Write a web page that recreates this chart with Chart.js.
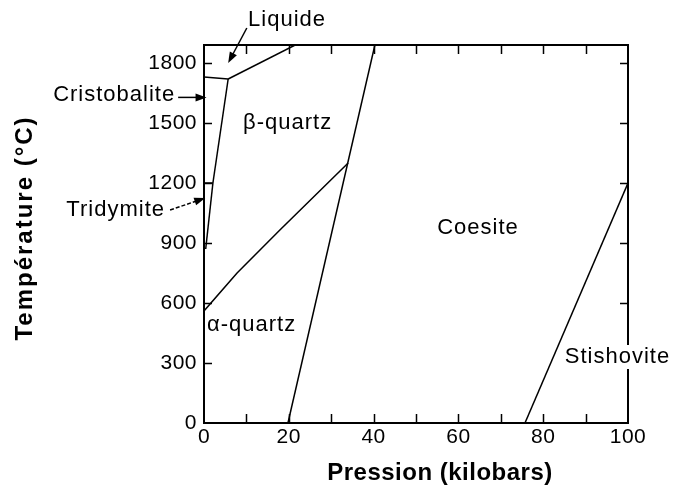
<!DOCTYPE html>
<html>
<head>
<meta charset="utf-8">
<script src="https://cdn.jsdelivr.net/npm/chart.js@4.4.0/dist/chart.umd.min.js"></script>
<style>
  html, body { margin: 0; padding: 0; background: #fff; }
  .chart-container { width: 673px; height: 486px; }
</style>
</head>
<body>
<div class="chart-container"><canvas id="phaseChart"></canvas></div>
<script>
// axes
const xTickLabels = [0, 20, 40, 60, 80, 100];
const xTickMarks = [10, 20, 30, 40, 50, 60, 70, 80, 90];
const yTickLabels = [0, 300, 600, 900, 1200, 1500, 1800];

// phase boundaries: [pression kbar, temperature °C]
const liquidQuartz = [[5.7, 1720], [21.5, 1890]];
const liquidCristobalite = [[0, 1730], [5.7, 1720]];
const cristobaliteQuartz = [[5.7, 1720], [2.1, 1200]];
const tridymiteCristobalite = [[0, 1200], [2.1, 1200]];
const tridymiteQuartz = [[2.1, 1200], [0.4, 870]];
const alphaBeta = [[0, 560], [7.8, 750], [17.9, 965], [34, 1300]];
const quartzCoesite = [[19.8, 0], [40.3, 1890]];
const coesiteStishovite = [[75.7, 0], [100, 1200]];

const boundaries = [
  liquidQuartz, liquidCristobalite, cristobaliteQuartz, tridymiteCristobalite,
  tridymiteQuartz, alphaBeta, quartzCoesite, coesiteStishovite,
];

// phase names placed in data coordinates
const phaseNames = ['β-quartz', 'Coesite', 'α-quartz', 'Stishovite', 'Liquide', 'Cristobalite', 'Tridymite'];
const phaseNameAt = [[9.2, 1500], [55.0, 975], [0.7, 490], [85.1, 330], [10.4, 2015], [-6.8, 1640], [-9.2, 1065]];
const phaseNameAlign = ['left', 'left', 'left', 'left', 'left', 'right', 'right'];

// arrows pointing from label to region: [from, to]
const arrowFrom = [[10.1, 1975], [-6.1, 1628], [-8.0, 1065]];
const arrowTo = [[5.7, 1800], [0.6, 1628], [0.3, 1125]];
const arrowDashed = [false, false, true];

const FONT = '"Liberation Sans", Arial, sans-serif';

function drawArrow(ctx, x1, y1, x2, y2, dashed) {
  const ang = Math.atan2(y2 - y1, x2 - x1);
  const head = 11;
  ctx.save();
  ctx.strokeStyle = '#000';
  ctx.fillStyle = '#000';
  ctx.lineWidth = 1.5;
  if (dashed) ctx.setLineDash([4, 2]);
  ctx.beginPath();
  ctx.moveTo(x1, y1);
  ctx.lineTo(x2 - Math.cos(ang) * head * 0.8, y2 - Math.sin(ang) * head * 0.8);
  ctx.stroke();
  ctx.setLineDash([]);
  ctx.beginPath();
  ctx.moveTo(x2, y2);
  ctx.lineTo(x2 - head * Math.cos(ang) + 4 * Math.sin(ang), y2 - head * Math.sin(ang) - 4 * Math.cos(ang));
  ctx.lineTo(x2 - head * Math.cos(ang) - 4 * Math.sin(ang), y2 - head * Math.sin(ang) + 4 * Math.cos(ang));
  ctx.closePath();
  ctx.fill();
  ctx.restore();
}

const phasePlugin = {
  id: 'phasePlugin',
  beforeDraw(chart) {
    chart.ctx.letterSpacing = '0.5px';
  },
  afterDraw(chart) {
    const ctx = chart.ctx;
    const { left, right, top, bottom } = chart.chartArea;
    const xs = chart.scales.x;
    const ys = chart.scales.y;
    ctx.save();

    // frame
    ctx.strokeStyle = '#000';
    ctx.lineWidth = 2;
    ctx.strokeRect(left, top, right - left, bottom - top);

    // inward ticks on all four sides
    ctx.lineWidth = 1.5;
    ctx.beginPath();
    xTickMarks.forEach((v) => {
      const px = Math.round(xs.getPixelForValue(v)) + 0.5;
      ctx.moveTo(px, bottom); ctx.lineTo(px, bottom - 9);
      ctx.moveTo(px, top); ctx.lineTo(px, top + 9);
    });
    yTickLabels.slice(1).forEach((v) => {
      const py = Math.round(ys.getPixelForValue(v)) + 0.5;
      ctx.moveTo(left, py); ctx.lineTo(left + 8, py);
      ctx.moveTo(right, py); ctx.lineTo(right - 8, py);
    });
    ctx.stroke();

    // phase names
    ctx.font = '22px ' + FONT;
    ctx.letterSpacing = '1px';
    ctx.textBaseline = 'middle';
    phaseNames.forEach((name, i) => {
      const px = xs.getPixelForValue(phaseNameAt[i][0]);
      const py = ys.getPixelForValue(phaseNameAt[i][1]);
      ctx.textAlign = phaseNameAlign[i];
      if (name === 'Stishovite') {
        const w = ctx.measureText(name).width;
        ctx.fillStyle = '#fff';
        ctx.fillRect(px - 2, py - 12, w + 4, 24);
      }
      ctx.fillStyle = '#000';
      ctx.fillText(name, px, py);
    });

    // arrows
    arrowFrom.forEach((from, i) => {
      drawArrow(ctx,
        xs.getPixelForValue(from[0]), ys.getPixelForValue(from[1]),
        xs.getPixelForValue(arrowTo[i][0]), ys.getPixelForValue(arrowTo[i][1]),
        arrowDashed[i]);
    });

    // axis titles
    ctx.font = 'bold 24px ' + FONT;
    ctx.textAlign = 'center';
    ctx.letterSpacing = '0.5px';
    ctx.fillText('Pression (kilobars)', 440, 473);
    ctx.translate(25, 228);
    ctx.rotate(-Math.PI / 2);
    ctx.letterSpacing = '2px';
    ctx.fillText('Température (°C)', 0, 0);
    ctx.restore();
  },
};

new Chart(document.getElementById('phaseChart'), {
  type: 'scatter',
  data: {
    datasets: boundaries.map((pts) => ({
      data: pts.map(([x, y]) => ({ x, y })),
      showLine: true,
      borderColor: '#000',
      borderWidth: 1.5,
      pointRadius: 0,
      tension: 0,
    })),
  },
  options: {
    responsive: true,
    maintainAspectRatio: false,
    animation: false,
    layout: { padding: { top: 45, right: 45, left: 0, bottom: 0 } },
    plugins: { legend: { display: false }, tooltip: { enabled: false } },
    scales: {
      x: {
        type: 'linear',
        min: 0,
        max: 100,
        afterBuildTicks: (axis) => { axis.ticks = xTickLabels.map((v) => ({ value: v })); },
        afterFit: (axis) => { axis.height = 63; },
        grid: { display: false, drawTicks: false },
        border: { display: false },
        ticks: {
          color: '#000', padding: 2, maxRotation: 0, autoSkip: false,
          font: { family: FONT, size: 21 },
          callback: (v) => String(v),
        },
      },
      y: {
        type: 'linear',
        min: 0,
        max: 1890,
        afterBuildTicks: (axis) => { axis.ticks = yTickLabels.map((v) => ({ value: v })); },
        afterFit: (axis) => { axis.width = 204; },
        grid: { display: false, drawTicks: false },
        border: { display: false },
        ticks: {
          color: '#000', padding: 7, autoSkip: false,
          font: { family: FONT, size: 21 },
          callback: (v) => String(v),
        },
      },
    },
  },
  plugins: [phasePlugin],
});
</script>
</body>
</html>
